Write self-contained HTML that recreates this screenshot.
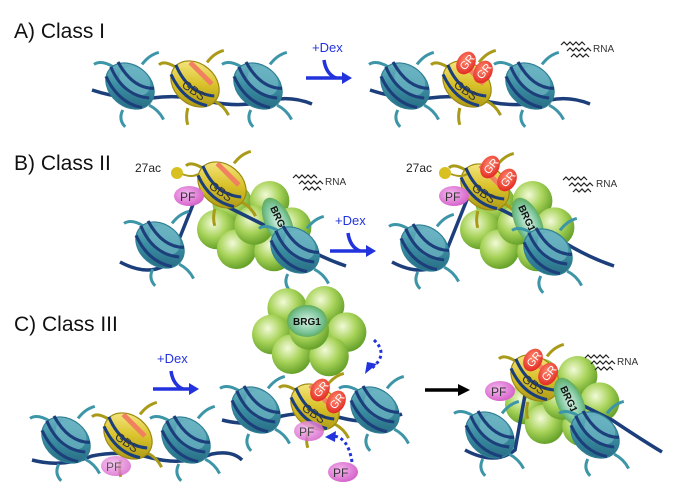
<!DOCTYPE html>
<html><head><meta charset="utf-8"><style>
html,body{margin:0;padding:0;background:#fff;}
svg{display:block;font-family:"Liberation Sans",sans-serif;}
</style></head><body>
<svg width="676" height="500" viewBox="0 0 676 500" xmlns="http://www.w3.org/2000/svg">
<defs>
<linearGradient id="tg" x1="0" y1="0" x2="1" y2="1"><stop offset="0" stop-color="#7ec3cf"/><stop offset="0.5" stop-color="#3b8ea2"/><stop offset="1" stop-color="#1f5f78"/></linearGradient>
<linearGradient id="yg" x1="0" y1="0" x2="1" y2="1"><stop offset="0" stop-color="#fff3a0"/><stop offset="0.5" stop-color="#d9c22a"/><stop offset="1" stop-color="#9c8a10"/></linearGradient>
<radialGradient id="gb" cx="0.4" cy="0.35" r="0.7"><stop offset="0" stop-color="#f2fad8"/><stop offset="0.5" stop-color="#a8d35a"/><stop offset="1" stop-color="#5c9a22"/></radialGradient>
<radialGradient id="gc" cx="0.5" cy="0.5" r="0.6"><stop offset="0" stop-color="#d8f3e6"/><stop offset="0.6" stop-color="#7cc59a"/><stop offset="1" stop-color="#4e9a3a"/></radialGradient>
<radialGradient id="rg" cx="0.4" cy="0.4" r="0.7"><stop offset="0" stop-color="#ff8a70"/><stop offset="1" stop-color="#e0201a"/></radialGradient>
<radialGradient id="pg" cx="0.4" cy="0.4" r="0.7"><stop offset="0" stop-color="#f6b8ef"/><stop offset="1" stop-color="#d158c6"/></radialGradient>
<g id="nuc"><g transform="scale(1.2)">
<path d="M-14,-16 q-10,-6 -16,-2 M10,-18 q6,-8 14,-10 M16,16 q8,4 12,12 M-6,20 q-4,8 2,14" stroke="#3d95a8" stroke-width="2.5" fill="none"/>
<ellipse cx="0" cy="0" rx="22" ry="17" transform="rotate(40)" fill="url(#tg)" stroke="#2f7f95" stroke-width="1"/>
<ellipse cx="4" cy="-4" rx="14" ry="11" transform="rotate(40 4 -4)" fill="#6fb7c5" opacity="0.7"/>
<path d="M-20,-8 q10,22 30,26 M-16,-16 q10,24 32,26 M-10,-20 q12,22 30,22" stroke="#1c3f7c" stroke-width="2.6" fill="none"/>
</g></g>
<g id="ynuc"><g transform="scale(1.2)">
<path d="M-16,-14 q-10,-6 -14,-2 M10,-18 q6,-8 14,-10 M16,14 q8,4 12,12 M-6,20 q-2,8 0,14" stroke="#a99a18" stroke-width="2.5" fill="none"/>
<ellipse cx="0" cy="0" rx="22" ry="17" transform="rotate(40)" fill="url(#yg)" stroke="#9c8a10" stroke-width="1"/>
<path d="M-4,-18 l18,18" stroke="#f08060" stroke-width="4"/>
<path d="M-20,-8 q10,22 30,26 M-16,-16 q10,24 32,26" stroke="#1c3f7c" stroke-width="2.6" fill="none"/>
<text x="-11" y="8" font-size="10" fill="#333" transform="rotate(35 -2 4)">GBS</text>
</g></g>
<g id="cluster"><g transform="scale(1.1)">
<circle cx="-18" cy="-20" r="18" fill="url(#gb)"/><circle cx="16" cy="-22" r="18" fill="url(#gb)"/>
<circle cx="36" cy="2" r="18" fill="url(#gb)"/><circle cx="-32" cy="4" r="18" fill="url(#gb)"/>
<circle cx="-14" cy="22" r="18" fill="url(#gb)"/><circle cx="20" cy="24" r="18" fill="url(#gb)"/>
<circle cx="2" cy="0" r="18" fill="url(#gb)"/>
</g></g>
<g id="gr"><ellipse cx="0" cy="0" rx="9" ry="12" transform="rotate(30)" fill="url(#rg)"/><text x="-7" y="4" font-size="11" fill="#fff" transform="rotate(-50)">GR</text></g>
<g id="rna" stroke="#222" stroke-width="1.2" fill="none">
<path d="M0,0 l3,-3 l3,3 l3,-3 l3,3 l3,-3 l3,3 l3,-3 l3,3"/>
<path d="M6,6 l3,-3 l3,3 l3,-3 l3,3 l3,-3 l3,3 l3,-3 l3,3"/>
<path d="M10,12 l3,-3 l3,3 l3,-3 l3,3 l3,-3 l3,3"/>
</g>
<g id="dex" fill="none" stroke="#2233dd" stroke-width="3.5">
<path d="M0,23 h40"/><path d="M18,5 q2,14 12,18"/><path d="M36,17 l10,6 l-10,6 z" fill="#2233dd" stroke="none"/>
</g>
</defs>

<text x="14" y="38" font-size="21" fill="#111">A) Class I</text>
<text x="14" y="170" font-size="21" fill="#111">B) Class II</text>
<text x="14" y="331" font-size="21" fill="#111">C) Class III</text>

<path d="M92,90 q30,10 60,8 q30,-4 60,4 q30,6 60,-2 q20,-4 40,4" stroke="#1c3f7c" stroke-width="3.5" fill="none"/>
<use href="#nuc" x="130" y="86"/><use href="#ynuc" x="195" y="84"/><use href="#nuc" x="258" y="86"/>
<text x="312" y="52" font-size="13" fill="#2233dd">+Dex</text>
<use href="#dex" x="306" y="55"/>
<path d="M370,90 q30,10 60,8 q30,-4 60,4 q30,6 60,-2 q20,-4 40,4" stroke="#1c3f7c" stroke-width="3.5" fill="none"/>
<use href="#nuc" x="405" y="86"/><use href="#ynuc" x="467" y="84"/><use href="#nuc" x="530" y="86"/>
<use href="#gr" x="466" y="63"/><use href="#gr" x="483" y="72"/>
<use href="#rna" x="561" y="45"/><text x="593" y="52" font-size="10" fill="#333">RNA</text>

<use href="#cluster" x="252" y="225"/>
<path d="M120,262 q30,16 50,0 l28,-70 M206,196 q40,20 80,40 q30,20 60,30" stroke="#1c3f7c" stroke-width="3.5" fill="none"/>
<use href="#nuc" x="160" y="245"/>
<use href="#ynuc" x="222" y="185"/>
<ellipse cx="278" cy="222" rx="13" ry="26" transform="rotate(-25 278 222)" fill="url(#gc)"/>
<text x="270" y="208" font-size="10" font-weight="bold" fill="#111" transform="rotate(65 270 208)">BRG1</text>
<use href="#nuc" x="295" y="250"/>
<ellipse cx="189" cy="196" rx="15" ry="10" fill="url(#pg)"/><text x="180" y="201" font-size="12" fill="#333">PF</text>
<text x="135" y="172" font-size="12" fill="#222">27ac</text>
<path d="M182,174 q10,4 16,0" stroke="#a99a18" stroke-width="2" fill="none"/>
<circle cx="177" cy="173" r="6" fill="#d8c020"/>
<use href="#rna" x="293" y="178"/><text x="325" y="185" font-size="10" fill="#333">RNA</text>
<text x="335" y="225" font-size="13" fill="#2233dd">+Dex</text>
<use href="#dex" x="330" y="228"/>

<use href="#cluster" x="515" y="225"/>
<path d="M392,262 q30,16 50,0 l28,-70 M474,196 q40,20 80,40 q30,20 60,30" stroke="#1c3f7c" stroke-width="3.5" fill="none"/>
<use href="#nuc" x="425" y="248"/>
<use href="#ynuc" x="485" y="187"/>
<use href="#gr" x="490" y="167"/><use href="#gr" x="507" y="180"/>
<ellipse cx="528" cy="222" rx="13" ry="26" transform="rotate(-25 528 222)" fill="url(#gc)"/>
<text x="518" y="207" font-size="10" font-weight="bold" fill="#111" transform="rotate(65 518 207)">BRG1</text>
<use href="#nuc" x="548" y="252"/>
<ellipse cx="454" cy="196" rx="15" ry="10" fill="url(#pg)"/><text x="445" y="201" font-size="12" fill="#333">PF</text>
<text x="406" y="172" font-size="12" fill="#222">27ac</text>
<path d="M451,174 q10,4 16,0" stroke="#a99a18" stroke-width="2" fill="none"/>
<circle cx="445" cy="173" r="6" fill="#d8c020"/>
<use href="#rna" x="563" y="180"/><text x="596" y="187" font-size="10" fill="#333">RNA</text>

<text x="157" y="363" font-size="13" fill="#2233dd">+Dex</text>
<use href="#dex" x="153" y="366"/>
<path d="M32,460 q30,8 60,-4 q30,-6 60,2 q30,8 60,-4 q20,-4 30,6" stroke="#1c3f7c" stroke-width="3.5" fill="none"/>
<use href="#nuc" x="66" y="440"/><use href="#ynuc" x="128" y="436"/><use href="#nuc" x="186" y="440"/>
<ellipse cx="116" cy="466" rx="15" ry="10" fill="url(#pg)" opacity="0.8"/><text x="106" y="471" font-size="12" fill="#555">PF</text>

<use href="#cluster" x="307" y="330"/>
<ellipse cx="307" cy="321" rx="20" ry="16" fill="url(#gc)"/>
<text x="293" y="325" font-size="10" font-weight="bold" fill="#111">BRG1</text>
<path d="M374,340 q15,14 -2,28" stroke="#2233dd" stroke-width="3" stroke-dasharray="3,3" fill="none"/>
<path d="M377,364 l-12,10 l2,-12 z" fill="#2233dd"/>
<path d="M222,420 q30,8 60,-4 q30,-6 60,2 q30,8 60,-4" stroke="#1c3f7c" stroke-width="3.5" fill="none"/>
<use href="#nuc" x="256" y="410"/><use href="#ynuc" x="315" y="407"/><use href="#nuc" x="375" y="410"/>
<use href="#gr" x="320" y="390"/><use href="#gr" x="336" y="402"/>
<ellipse cx="309" cy="431" rx="15" ry="10" fill="url(#pg)" opacity="0.85"/><text x="299" y="436" font-size="12" fill="#444">PF</text>
<path d="M352,462 q-4,-26 -20,-26" stroke="#2233dd" stroke-width="3" stroke-dasharray="3,3" fill="none"/>
<path d="M325,437 l11,-6 l-1,11 z" fill="#2233dd"/>
<ellipse cx="343" cy="472" rx="15" ry="10" fill="url(#pg)"/><text x="333" y="477" font-size="12" fill="#333">PF</text>

<path d="M425,390 h36" stroke="#000" stroke-width="3.5"/><path d="M458,384 l12,6 l-12,6 z" fill="#000"/>

<use href="#cluster" x="560" y="400"/>
<path d="M465,450 q30,16 50,0 l10,-55 M532,380 q40,20 80,40 q30,20 50,32" stroke="#1c3f7c" stroke-width="3.5" fill="none"/>
<use href="#nuc" x="490" y="435"/>
<use href="#ynuc" x="535" y="378"/>
<use href="#gr" x="533" y="360"/><use href="#gr" x="548" y="374"/>
<ellipse cx="570" cy="402" rx="13" ry="26" transform="rotate(-25 570 402)" fill="url(#gc)"/>
<text x="560" y="388" font-size="10" font-weight="bold" fill="#111" transform="rotate(65 560 388)">BRG1</text>
<use href="#nuc" x="595" y="435"/>
<ellipse cx="500" cy="391" rx="15" ry="10" fill="url(#pg)"/><text x="491" y="396" font-size="12" fill="#333">PF</text>
<use href="#rna" x="585" y="358"/><text x="617" y="365" font-size="10" fill="#333">RNA</text>
</svg>
</body></html>
